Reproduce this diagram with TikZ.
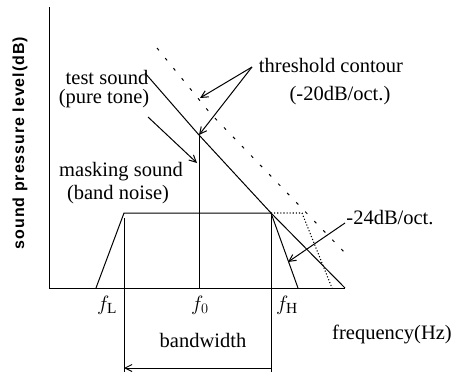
\documentclass[tikz,border=0pt]{standalone}
\usepackage{fontspec}
\setmainfont{Liberation Serif}
\setsansfont{Liberation Sans}
\usetikzlibrary{arrows.meta}

\begin{document}
\begin{tikzpicture}[x=1pt, y=-1pt, line width=1pt,
    lbl/.style={font=\fontsize{20.5}{23}\selectfont, inner sep=0pt},
    freq/.style={font=\fontsize{22}{24}\selectfont, inner sep=0pt},
    arr/.style={-{Straight Barb[length=7pt,width=7pt]}}]
    \useasboundingbox (0,0) rectangle (453,372);

    % axes
    \coordinate (ytop) at (49,7);
    \coordinate (origin) at (49,288);
    \coordinate (xend) at (345,288);
    \draw (ytop) -- (origin) -- (xend);
    \node[rotate=90, inner sep=0pt, font=\sffamily\bfseries\fontsize{16}{18}\selectfont\addfontfeature{LetterSpace=6}] (ylabel) at (20,143) {sound pressure level(dB)};

    % band noise and tone
    \coordinate (nl) at (96,288);
    \coordinate (ntl) at (124,213);
    \coordinate (ntr) at (271,213);
    \coordinate (nr) at (298,288);
    \draw (nl) -- (ntl) -- (ntr) -- (nr);
    \coordinate (f0bot) at (199,288);
    \coordinate (f0top) at (199,135);
    \draw (f0bot) -- (f0top);

    % threshold contours
    \coordinate (ts) at (145,73);
    \draw (ts) -- (f0top) -- (ntr) -- (xend);
    \coordinate (qs) at (157,48);
    \coordinate (qm) at (210,113);
    \coordinate (qe) at (348,256);
    \draw[dash pattern=on 3pt off 10pt] (qs) -- (qm) -- (qe);
    \coordinate (dk) at (302,213);
    \coordinate (de) at (332,288);
    \draw[dotted, line width=1.1pt] (ntr) -- (dk) -- (de);

    % band edges
    \coordinate (flbot) at (124,372);
    \coordinate (fhbot) at (271,372);
    \draw (124,218) -- (flbot);
    \draw (ntr) -- (fhbot);

    % labels
    \node[lbl] (thr) at (331,65) {threshold contour};
    \node[lbl] (thrdb) at (340,96) {(-20dB/oct.)};
    \node[lbl] (test) at (107,77) {test sound};
    \node[lbl] (pure) at (104,99) {(pure tone)};
    \node[lbl] (mask) at (121,172) {masking sound};
    \node[lbl] (band) at (118,195) {(band noise)};
    \node[lbl] (slope) at (390,218) {-24dB/oct.};
    \node[lbl] (bw) at (203,340) {bandwidth};
    \node[lbl] (fq) at (392,334) {frequency(Hz)};
    \node[freq] (fL) at (107,305) {$f_{\mathrm{L}}$};
    \node[freq] (f0) at (200,305) {$f_{0}$};
    \node[freq] (fH) at (287,305) {$f_{\mathrm{H}}$};

    % arrows
    \coordinate (thrfrom) at (252,67);
    \draw[arr] (thrfrom) -- (200,98);
    \draw[arr] (thrfrom) -- (f0top);
    \draw[arr] (148,117) -- (197,163);
    \draw[arr] (345,223) -- (288,262);
    \draw[arr, {Straight Barb[length=7pt,width=7pt]}-] (124,368) -- (271,368);
\end{tikzpicture}
\end{document}
